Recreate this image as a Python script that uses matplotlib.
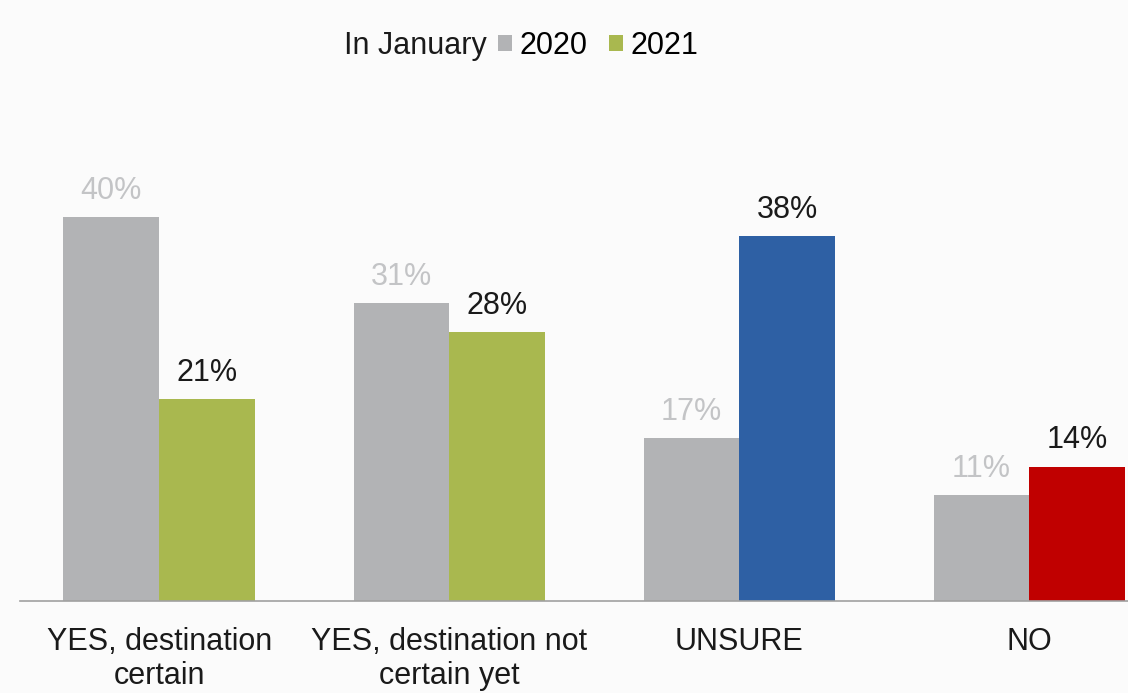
import numpy as np
import matplotlib.pyplot as plt

plt.rcParams['font.family'] = ['Liberation Sans', 'DejaVu Sans']

categories = ['YES, destination\ncertain', 'YES, destination not\ncertain yet', 'UNSURE', 'NO']
values_2020 = [40, 31, 17, 11]
values_2021 = [21, 28, 38, 14]
colors_2021 = ['#a9b84f', '#a9b84f', '#2e60a4', '#c00000']

ind = np.arange(len(categories))
width = 0.33

fig = plt.figure(figsize=(11.28, 6.93), dpi=100)
fig.patch.set_facecolor('#fbfbfb')
ax = fig.add_axes([0.0177, 0.1328, 0.9823, 0.7229])
ax.set_facecolor('none')

bars_2020 = ax.bar(ind - width/2, values_2020, width, color='#b2b3b5')
bars_2021 = ax.bar(ind + width/2, values_2021, width, color=colors_2021)

def autolabel(bars, color):
    for bar in bars:
        h = bar.get_height()
        ax.annotate('%d%%' % h, (bar.get_x() + bar.get_width()/2, h), xytext=(0, 8),
                    textcoords='offset points', ha='center', va='bottom', fontsize=22, color=color)

autolabel(bars_2020, '#c3c4c6')
autolabel(bars_2021, '#1a1a1a')

ax.set_xlim(-0.48, 3.34)
ax.set_ylim(0, 52.2)
ax.set_xticks(ind)
ax.set_xticklabels(categories, fontsize=22, color='#1a1a1a', linespacing=1.17)
ax.tick_params(axis='x', length=0, pad=19)
ax.set_yticks([])
for s in ['top', 'right', 'left']:
    ax.spines[s].set_visible(False)
ax.spines['bottom'].set_color('#a0a0a0')
ax.spines['bottom'].set_linewidth(1.2)

fig.text(0.4317, 0.9336, 'In January', ha='right', va='center', fontsize=22, color='#1a1a1a')
fig.legend((bars_2020[0], bars_2021[0]), ('2020', '2021'), loc='center left',
           bbox_to_anchor=(0.4415, 0.9336), ncol=2, frameon=False, fontsize=22,
           borderpad=0, borderaxespad=0,
           handlelength=0.46, handleheight=0.46, handletextpad=0.23, columnspacing=0.72)

plt.savefig('out.png', dpi=100)
